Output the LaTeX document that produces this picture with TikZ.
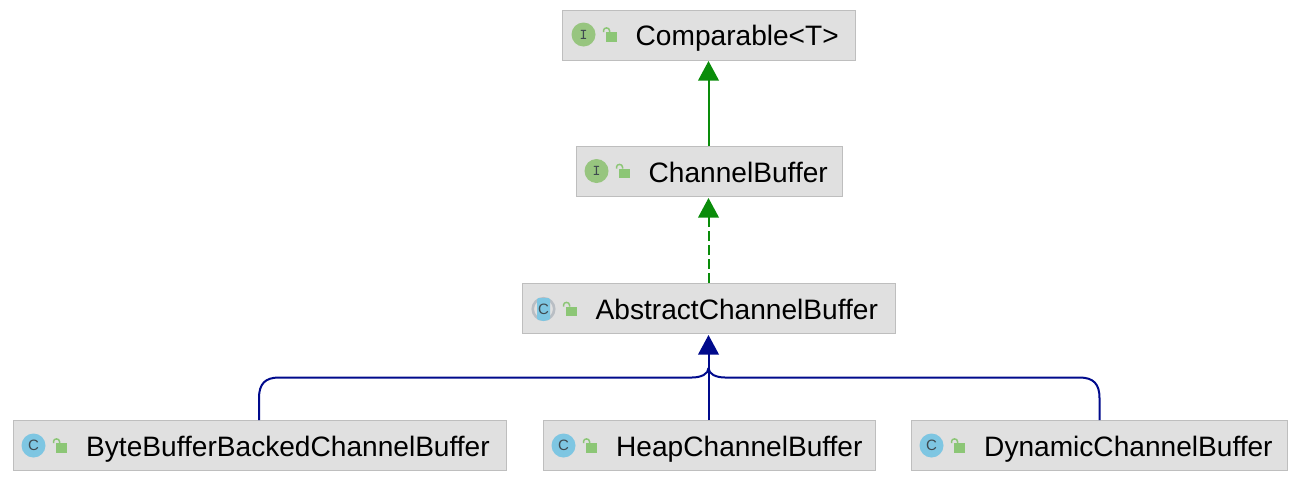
\documentclass[tikz,border=0pt]{standalone}
\usepackage{fontspec}
\setmainfont{Liberation Sans}
\usetikzlibrary{arrows.meta}
\definecolor{boxfill}{HTML}{E0E0E0}
\definecolor{boxline}{HTML}{BEBEBE}
\definecolor{ifacegreen}{HTML}{97C57F}
\definecolor{lockgreen}{HTML}{8CC676}
\definecolor{classblue}{HTML}{7EC6E2}
\definecolor{ringgrey}{HTML}{B9BEC4}
\definecolor{glyphgrey}{HTML}{3F4A50}
\definecolor{inherit}{HTML}{0A8C0A}
\definecolor{extendblue}{HTML}{000A8C}
\tikzset{
  x=1pt, y=-1pt,
  classbox/.style={draw=boxline, fill=boxfill, line width=1.3pt, rectangle, inner sep=0pt, anchor=north west},
  classlabel/.style={anchor=base west, inner sep=0pt, text=black, font=\fontsize{28.1}{30}\selectfont},
  iconletter/.style={inner sep=0pt, text=glyphgrey},
  hollowtip/.tip={Triangle[length=19.5pt,width=20.5pt]},
  realize/.style={draw=inherit, line width=2pt, -{hollowtip[fill=inherit]}},
  extendline/.style={draw=extendblue, line width=2pt},
  lockbody/.style={fill=lockgreen, draw=none},
  lockbar/.style={draw=lockgreen, line width=1.5pt},
}
% open padlock drawn relative to the centre of the kind icon
\newcommand{\openlock}[2]{%
  \fill[lockbody] (#1+22.5,#2-2.5) rectangle (#1+33,#2+7);
  \draw[lockbar] (#1+20,#2-2.5) -- (#1+20,#2-4) arc[start angle=180,end angle=0,x radius=3,y radius=-2.6] -- (#1+26,#2-2.5);
}
% round kind icon
\newcommand{\kindicon}[4]{%
  \node[circle, fill=#3, minimum size=24pt, inner sep=0pt] (#4) at (#1,#2) {};
}
\begin{document}
\begin{tikzpicture}
\useasboundingbox (0,0) rectangle (1298,480);

% class boxes
\node[classbox, minimum width=292.5pt, minimum height=50pt] (comparable) at (562,9.5) {};
\node[classbox, minimum width=266.5pt, minimum height=50pt] (channel) at (575.5,146) {};
\node[classbox, minimum width=373pt, minimum height=50pt] (abstract) at (522,283) {};
\node[classbox, minimum width=493.5pt, minimum height=50pt] (bytebuf) at (12.5,420) {};
\node[classbox, minimum width=332.5pt, minimum height=50pt] (heap) at (542.5,420) {};
\node[classbox, minimum width=376pt, minimum height=50pt] (dynamic) at (910.5,420) {};

% class names
\node[classlabel] (comparabletext) at (635.5,45) {Comparable<T>};
\node[classlabel] (channeltext) at (648.5,182) {ChannelBuffer};
\node[classlabel] (abstracttext) at (595.5,319) {AbstractChannelBuffer};
\node[classlabel] (bytebuftext) at (86,456) {ByteBufferBackedChannelBuffer};
\node[classlabel] (heaptext) at (616,456) {HeapChannelBuffer};
\node[classlabel] (dynamictext) at (984,456) {DynamicChannelBuffer};

% interface icons
\kindicon{583.5}{34.5}{ifacegreen}{comparableicon}
\node[iconletter, font=\ttfamily\bfseries\fontsize{15}{15}\selectfont] at (comparableicon) {I};
\openlock{583.5}{34.5}
\kindicon{596.5}{171}{ifacegreen}{channelicon}
\node[iconletter, font=\ttfamily\bfseries\fontsize{15}{15}\selectfont] at (channelicon) {I};
\openlock{596.5}{171}

% abstract class icon: grey ring behind a blue core
\node[circle, draw=ringgrey, line width=2.6pt, fill=boxfill, minimum size=21.5pt, inner sep=0pt] (abstracticon) at (543.5,309) {};
\begin{scope}
  \clip (537,298) rectangle (550,320);
  \fill[classblue] (abstracticon.center) circle[radius=12];
\end{scope}
\node[iconletter, font=\fontsize{15}{15}\selectfont] at (abstracticon) {C};
\openlock{543.5}{309}

% class icons
\kindicon{33.5}{445.5}{classblue}{bytebuficon}
\node[iconletter, font=\fontsize{15}{15}\selectfont] at (bytebuficon) {C};
\openlock{33.5}{445.5}
\kindicon{563.5}{445.5}{classblue}{heapicon}
\node[iconletter, font=\fontsize{15}{15}\selectfont] at (heapicon) {C};
\openlock{563.5}{445.5}
\kindicon{931.5}{445.5}{classblue}{dynamicicon}
\node[iconletter, font=\fontsize{15}{15}\selectfont] at (dynamicicon) {C};
\openlock{931.5}{445.5}

% connector anchor points
\coordinate (abstractin) at (708.5,335);
\coordinate (merge) at (708.5,368);

% inheritance arrows
\draw[realize] (channel.north -| 708.5,0) -- (708.5,61);
\draw[realize, dash pattern=on 10pt off 4pt] (abstract.north -| 708.5,0) -- (708.5,198);
\draw[extendline] (259,420) -- (259,398) .. controls (259,384) and (265,377.5) .. (279,377.5) -- (692,377.5) .. controls (701,377.5) and (708.5,374) .. (merge);
\draw[extendline] (1099.5,420) -- (1099.5,398) .. controls (1099.5,384) and (1093.5,377.5) .. (1079.5,377.5) -- (725,377.5) .. controls (716,377.5) and (708.5,374) .. (merge);
\draw[extendline, -{hollowtip[fill=extendblue]}] (708.5,420) -- (abstractin);
\end{tikzpicture}
\end{document}
